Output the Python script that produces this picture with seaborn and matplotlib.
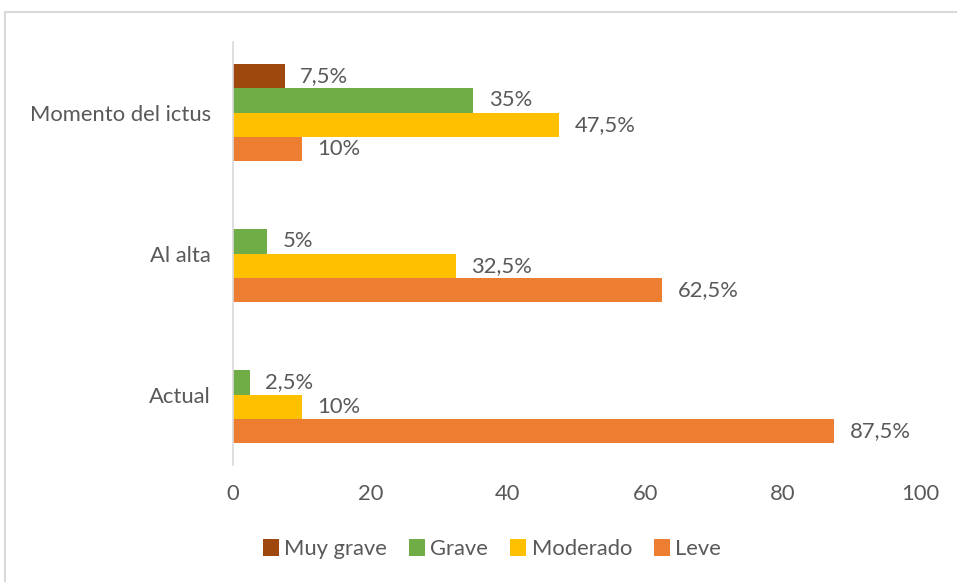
import matplotlib
matplotlib.use("Agg")
import matplotlib.pyplot as plt
import matplotlib.patches as mpatches
import seaborn as sns
import pandas as pd

# Severity distribution (%) at each time point
categories = ["Momento del ictus", "Al alta", "Actual"]
severity_levels = ["Muy grave", "Grave", "Moderado", "Leve"]
muy_grave = [7.5, 0, 0]
grave = [35, 5, 2.5]
moderado = [47.5, 32.5, 10]
leve = [10, 62.5, 87.5]
x_ticks = [0, 20, 40, 60, 80, 100]

colors = ["#9E480E", "#70AD47", "#FFC000", "#ED7D31"]
text_color = "#595959"
grid_color = "#D9D9D9"
fs = 15.8

series = {"Muy grave": muy_grave, "Grave": grave, "Moderado": moderado, "Leve": leve}
rows = []
for level in severity_levels:
    for cat, val in zip(categories, series[level]):
        rows.append({"Momento": cat, "Gravedad": level, "Porcentaje": val})
df = pd.DataFrame(rows)

sns.set_theme(style="white")
plt.rcParams["font.family"] = ["Lato", "DejaVu Sans"]

fig = plt.figure(figsize=(9.57, 5.82), dpi=100)
ax = fig.add_axes([233 / 957, 1 - 465 / 582, (920 - 233) / 957, (465 - 42) / 582])

sns.barplot(
    data=df, x="Porcentaje", y="Momento", hue="Gravedad",
    order=categories, hue_order=severity_levels, palette=colors,
    orient="h", width=0.69, linewidth=0, errorbar=None, ax=ax, legend=False,
    saturation=1,
)

for container, level in zip(ax.containers, severity_levels):
    vals = series[level]
    labels = [("" if v == 0 else (f"{v:g}".replace(".", ",") + "%")) for v in vals]
    ax.bar_label(container, labels=labels, padding=11, fontsize=fs, color=text_color)

ax.set_xlim(0, 100)
ax.set_ylim(2.5, -0.5)
ax.set_xticks(x_ticks)
ax.set_xticklabels([str(t) for t in x_ticks])
ax.set_xlabel("")
ax.set_ylabel("")
ax.tick_params(axis="x", length=0, pad=14, labelsize=fs, labelcolor=text_color)
ax.tick_params(axis="y", length=0, pad=16, labelsize=fs, labelcolor=text_color)

for side in ["top", "right", "bottom"]:
    ax.spines[side].set_visible(False)
ax.spines["left"].set_color(grid_color)
ax.spines["left"].set_linewidth(1.2)
ax.grid(False)

handles = [mpatches.Patch(facecolor=c, edgecolor="none", label=l) for c, l in zip(colors, severity_levels)]
leg = fig.legend(
    handles=handles, loc="center", bbox_to_anchor=(492 / 957, 1 - 549 / 582),
    ncol=4, frameon=False, fontsize=fs, handlelength=0.72, handleheight=0.8,
    handletextpad=0.25, columnspacing=1.0,
)
for t in leg.get_texts():
    t.set_color(text_color)

# Light chart frame
fig.patches.append(mpatches.Rectangle(
    (5 / 957, -0.05), 1.1, 1 - 12 / 582 + 0.05, transform=fig.transFigure,
    fill=False, edgecolor=grid_color, linewidth=1.5, zorder=0,
))

fig.savefig("out.png", dpi=100)
